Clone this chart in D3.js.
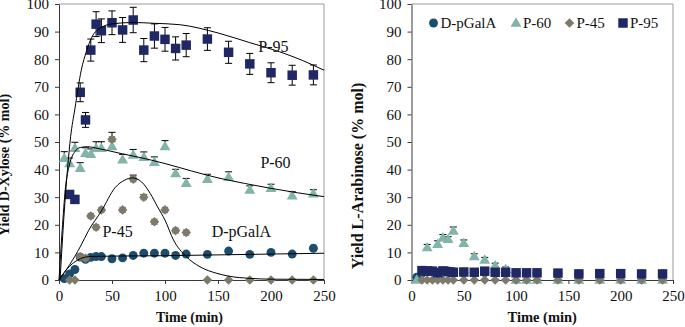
<!DOCTYPE html>
<html>
<head>
<meta charset="utf-8">
<script src="https://cdn.jsdelivr.net/npm/d3@7"></script>
<style>
  body { margin: 0; background: #fff; }
  svg text { font-family: "Liberation Serif", "Times New Roman", Times, "DejaVu Serif", serif !important; }
</style>
</head>
<body>
<svg id="chart" width="685" height="327" font-family="Liberation Serif"></svg>
<script>
// ---- sampling times (min)
const tGal = [5, 10, 15, 20, 25, 30, 35, 40, 50, 60, 70, 80, 90, 100, 110, 120, 140, 160, 180, 200, 220, 240]
const tP60 = [5, 10, 15, 20, 25, 30, 35, 40, 50, 60, 70, 80, 90, 100, 110, 120, 140, 160, 180, 200, 220, 240]
const tP45 = [10, 15, 20, 25, 30, 35, 40, 50, 60, 70, 80, 90, 100, 110, 120, 140, 160, 180, 200, 220, 240]
const tP95 = [10, 15, 20, 25, 30, 35, 40, 50, 60, 70, 80, 90, 100, 110, 120, 140, 160, 180, 200, 220, 240]
const tAraP60 = [5, 15, 25, 30, 35, 40, 50, 60, 70, 80, 90, 100, 110, 120, 140, 160, 180, 200, 220, 240]

// ---- yield D-xylose (% mol)
const xylGal = [0.5, 2.2, 3.8, 8.3, 7.5, 8.2, 8.5, 8.5, 7.7, 8, 8.9, 9.7, 9.7, 9.7, 8.9, 9.4, 9.3, 10.5, 9.3, 10, 9.4, 11.5]
const xylP60 = [44.1, 42.2, 47.7, 40.5, 45.9, 45.5, 47.7, 47.7, 48.3, 43.5, 45.3, 44.4, 42.6, 48.3, 38.6, 35, 36.5, 37.2, 32.6, 33.2, 30.5, 31.2]
const xylP60Err = [2.4, 2, 2.2, 2, 2, 2, 2.4, 2.4, 2, 2, 2, 2, 2, 2.2, 1.5, 1.8, 1.8, 2, 1.5, 1.5, 1.5, 1.5]
const xylP45 = [0, 0, 8.5, 7.9, 23.2, 19.1, 25.4, 51, 25.4, 36.5, 30, 21.1, 25.4, 17.9, 17.2, 0, 0, 0, 0, 0, 0]
const xylP45Err = [0, 0, 0, 0, 0, 0, 0, 2.5, 0, 1.5, 1, 0, 0, 0, 0, 0, 0, 0, 0, 0, 0]
const xylP95 = [31, 29.2, 68, 58, 83.3, 92.7, 90.3, 93.2, 90.6, 94.2, 83.3, 88.4, 87.2, 83.9, 85.1, 87.3, 82.5, 78.3, 75.1, 74.2, 74.3]
const xylP95Err = [0, 0, 3.4, 2.7, 4, 4.5, 4.3, 4.3, 4.5, 4.6, 4.2, 4.4, 4.3, 4.2, 4.2, 4.1, 4, 3.8, 3.6, 3.6, 3.6]

// ---- fitted model curves
const fitGalT = [0, 5, 10, 15, 20, 25, 30, 40, 60, 100, 150, 200, 250]
const fitGalV = [0, 2.8, 5, 6.6, 7.7, 8.3, 8.5, 8.6, 8.7, 8.8, 9.1, 9.4, 9.7]
const fitP60T = [0, 3, 6, 10, 15, 20, 27, 35, 45, 60, 75, 100, 125, 150, 175, 200, 225, 250]
const fitP60V = [0, 18, 33, 42, 46.5, 48, 48.3, 47.8, 47, 45.7, 44.5, 42.2, 39.5, 37, 35, 33.2, 31.6, 30.2]
const fitP45T = [0, 10, 20, 28, 40, 53, 62, 69, 78, 86, 93, 100, 108, 120, 133, 149, 160, 180, 200, 250]
const fitP45V = [0, 5.5, 12, 18, 25, 33.5, 36.2, 37, 35.5, 31.4, 26.5, 21.7, 14.5, 8.5, 4.8, 2.4, 1.4, 0.6, 0.3, 0.2]
const fitP95T = [1, 5, 8, 11, 15, 21, 26, 31, 40, 50, 70, 90, 114, 150, 180, 208, 230, 250]
const fitP95V = [0, 25, 40, 52, 62, 76, 83, 88, 91.5, 92.8, 93.3, 93, 92.5, 89.5, 86, 82.7, 79.5, 76]

// ---- yield L-arabinose (% mol)
const araGal = [1, 2.5, 3, 3.3, 2.8, 3.2, 3.3, 3, 2.6, 2.6, 2.7, 2.7, 2.6, 2.5, 2.5, 2.5, 2.4, 2.3, 2.3, 2.2, 2.2, 2.2]
const araP60 = [0, 11.7, 12.9, 15.3, 14.7, 17.7, 13.3, 8.5, 7.2, 5.1, 3.9, 0, 0, 0, 0, 0, 0, 0, 0, 0]
const araP60Err = [0, 1.2, 1.3, 1.2, 1, 1.5, 1.2, 1, 1, 1, 0.8, 0, 0, 0, 0, 0, 0, 0, 0, 0]
const araP45 = [0, 0, 0, 0, 0, 0, 0, 0, 0, 0, 0, 0, 0, 0, 0, 0, 0, 0, 0, 0, 0]
const araP95 = [3.4, 3.3, 3.2, 2.6, 3.3, 3.0, 2.8, 2.9, 2.8, 3.2, 2.8, 2.8, 2.6, 2.6, 2.6, 2.5, 2.2, 2.3, 2.3, 2.2, 2.2]

const seriesNames = ['D-pGalA', 'P-60', 'P-45', 'P-95']
const yTicks = d3.range(0, 101, 10)
const xTicks = d3.range(0, 251, 50)

const colors = { 'D-pGalA': '#1d4d6c', 'P-60': '#82b4a9', 'P-45': '#7d7a6c', 'P-95': '#1f2865' }
const FONT = '"Liberation Serif", "Times New Roman", serif'

const svg = d3.select('#chart')

function marker(sel, name, star) {
    if (name === 'D-pGalA') {
        sel.append('path').attr('d', d3.symbol(d3.symbolCircle, 62)())
    } else if (name === 'P-60') {
        sel.append('path').attr('d', d3.symbol(d3.symbolTriangle, 52)()).attr('transform', 'translate(0,0.5)')
    } else if (name === 'P-45') {
        sel.append('path').attr('d', d3.symbol(d3.symbolSquare, 46)()).attr('transform', 'rotate(45)')
        if (star) sel.append('path').attr('d', d3.symbol(d3.symbolSquare, 40)())
    } else {
        sel.append('path').attr('d', d3.symbol(d3.symbolSquare, 90)())
    }
    sel.attr('fill', colors[name])
}

function panel(opt) {
    const x = d3.scaleLinear().domain([0, 250]).range([opt.left, opt.right])
    const y = d3.scaleLinear().domain([0, 100]).range([280, 4])
    const g = svg.append('g')

    // light frame on top and right
    g.append('path')
        .attr('d', `M${x(0)},${y(100)}H${x(250)}V${y(0)}`)
        .attr('fill', 'none').attr('stroke', '#9a9a9a').attr('stroke-width', 1)

    const xAxis = g.append('g').attr('transform', `translate(0,${y(0)})`)
        .call(d3.axisBottom(x).tickValues(xTicks).tickSize(4).tickSizeOuter(0).tickPadding(6))
    const yAxis = g.append('g').attr('transform', `translate(${x(0)},0)`)
        .call(d3.axisLeft(y).tickValues(yTicks).tickSize(4).tickSizeOuter(0).tickPadding(6))
    ;[xAxis, yAxis].forEach(a => {
        a.attr('font-family', FONT)
        a.selectAll('path,line').attr('stroke', '#3a3a3a')
        a.selectAll('text').attr('font-size', 15).attr('fill', '#111').attr('font-family', FONT)
    })

    const plot = g.append('g')

    opt.series.forEach(s => {
        const pts = s.t.map((t, i) => ({ t: t, v: s.v[i], e: s.err ? s.err[i] : 0 }))
        // error bars
        const eb = plot.append('g').attr('stroke', '#000').attr('stroke-width', 1)
        pts.filter(d => d.e > 0).forEach(d => {
            const lo = s.plusOnly ? d.v : d.v - d.e
            const cx = x(d.t)
            eb.append('line').attr('x1', cx).attr('x2', cx).attr('y1', y(lo)).attr('y2', y(d.v + d.e))
            eb.append('line').attr('x1', cx - 3.5).attr('x2', cx + 3.5).attr('y1', y(d.v + d.e)).attr('y2', y(d.v + d.e))
            if (!s.plusOnly) eb.append('line').attr('x1', cx - 3.5).attr('x2', cx + 3.5).attr('y1', y(lo)).attr('y2', y(lo))
        })
        plot.append('g').selectAll('g').data(pts).join('g')
            .attr('transform', d => `translate(${x(d.t)},${y(d.v)})`)
            .each(function (d) { marker(d3.select(this), s.name, s.star && d.v > 0) })
    })

    ;(opt.fits || []).forEach(f => {
        const line = d3.line().x((d, i) => x(f.t[i])).y(d => y(d)).curve(d3.curveMonotoneX)
        plot.append('path').attr('d', line(f.v))
            .attr('fill', 'none').attr('stroke', '#000').attr('stroke-width', 1)
    })

    ;(opt.labels || []).forEach(l => {
        plot.append('text').attr('x', x(l.t)).attr('y', y(l.v)).attr('font-family', FONT)
            .attr('font-size', 16).attr('fill', '#111').text(l.text)
    })

    g.append('text')
        .attr('x', (x(0) + x(250)) / 2 + opt.xTitleShift).attr('y', 322)
        .attr('text-anchor', 'middle').attr('font-weight', 'bold').attr('font-size', opt.xTitleSize)
        .attr('font-family', FONT).attr('fill', '#111').text('Time (min)')
    g.append('text')
        .attr('transform', `translate(${opt.yTitleX},${opt.yTitleY}) rotate(-90)`)
        .attr('text-anchor', 'middle').attr('font-weight', 'bold').attr('font-size', opt.yTitleSize)
        .attr('font-family', FONT).attr('fill', '#111').text(opt.yTitle)

    return { x, y }
}

panel({
    left: 59, right: 324,
    yTitle: 'Yield D-Xylose (% mol)', yTitleX: 9, yTitleY: 165, yTitleSize: 14,
    xTitleSize: 14, xTitleShift: -2,
    series: [
        { name: 'D-pGalA', t: tGal, v: xylGal },
        { name: 'P-60', t: tP60, v: xylP60, err: xylP60Err, plusOnly: true },
        { name: 'P-45', t: tP45, v: xylP45, err: xylP45Err, plusOnly: true, star: true },
        { name: 'P-95', t: tP95, v: xylP95, err: xylP95Err }
    ],
    fits: [
        { t: fitGalT, v: fitGalV },
        { t: fitP60T, v: fitP60V },
        { t: fitP45T, v: fitP45V },
        { t: fitP95T, v: fitP95V }
    ],
    labels: [
        { text: 'P-95', t: 188, v: 82.6 },
        { text: 'P-60', t: 190, v: 40.6 },
        { text: 'P-45', t: 41, v: 15.6 },
        { text: 'D-pGalA', t: 144, v: 15.6 }
    ]
})

panel({
    left: 411.5, right: 673,
    yTitle: 'Yield L-Arabinose (% mol)', yTitleX: 363, yTitleY: 176, yTitleSize: 16,
    xTitleSize: 14.5, xTitleShift: 0,
    series: [
        { name: 'D-pGalA', t: tGal, v: araGal },
        { name: 'P-60', t: tAraP60, v: araP60, err: araP60Err, plusOnly: true },
        { name: 'P-45', t: tP45, v: araP45 },
        { name: 'P-95', t: tP95, v: araP95 }
    ]
})

// legend (right panel)
const legendX = [433.5, 516, 569.5, 623]
const legend = svg.append('g')
seriesNames.forEach((n, i) => {
    const item = legend.append('g').attr('transform', `translate(${legendX[i]},23)`)
    marker(item.append('g'), n, false)
    item.append('text').attr('x', 7).attr('y', 5).attr('font-family', FONT)
        .attr('font-size', 15).attr('fill', '#111').text(n)
})
</script>
</body>
</html>
